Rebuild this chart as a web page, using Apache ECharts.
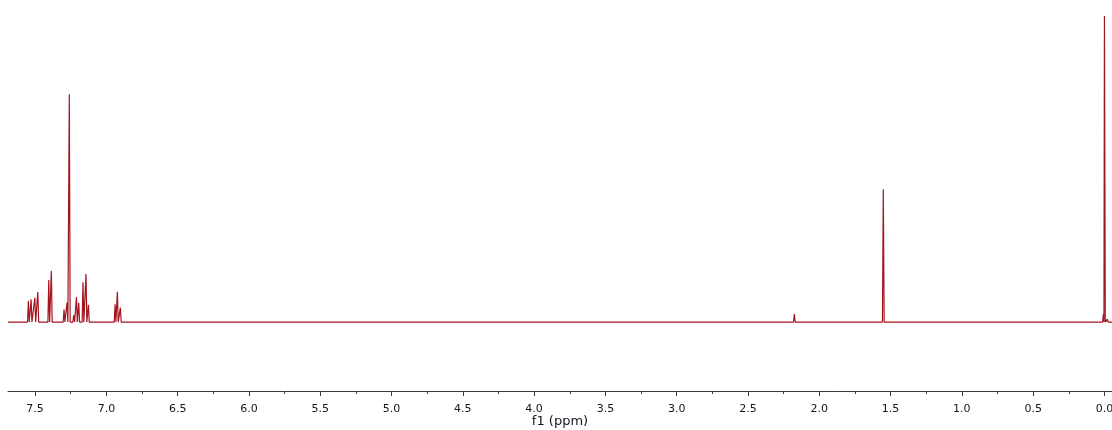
<!DOCTYPE html>
<html>
<head>
<meta charset="utf-8">
<script src="https://cdn.jsdelivr.net/npm/echarts@6/dist/echarts.min.js"></script>
<style>
html,body{margin:0;padding:0;background:#fff;overflow:hidden;width:1112px;height:430px;}
#chart{position:absolute;left:-40px;top:0;width:1220px;height:430px;}
</style>
</head>
<body>
<div id="chart"></div>
<script>
// Visible chemical-shift range (ppm), axis drawn right-to-left
const ppmHigh = 7.69;
const ppmLow = -0.053;

// Peak positions (ppm) and heights (relative, tallest = 100)
const peakPpm = [7.547, 7.528, 7.502, 7.481, 7.404, 7.386, 7.297, 7.276, 7.260, 7.229,
                 7.210, 7.194, 7.164, 7.143, 7.126, 6.939, 6.923, 6.902, 5.300, 2.175,
                 1.551, 1.260, 0.880, 0.150, 0.025, 0.007, 0.000, -0.020];
const peakHeight = [6.9, 7.4, 7.9, 9.8, 13.7, 16.7, 4.1, 6.4, 74.4, 2.3,
                    8.2, 6.3, 13.0, 15.7, 5.6, 5.8, 9.9, 4.7, 0.3, 2.6,
                    43.4, 0.3, 0.3, 0.3, 0.4, 2.6, 100, 0.9];

// Tick labels every 0.5 ppm (minor ticks every 0.25)
const tickStep = 0.5;
const tickMin = -0.5;
const tickMax = 8.0;
const axisTitle = 'f1 (ppm)';

// Build line vertices: baseline -> apex -> baseline for each peak
const spectrum = [[ppmHigh, 0]];
for (let i = 0; i < peakPpm.length; i++) {
  const p = peakPpm[i];
  const gapL = i > 0 ? peakPpm[i - 1] - p : 1;
  const gapR = i < peakPpm.length - 1 ? p - peakPpm[i + 1] : 1;
  const wl = Math.min(0.006, gapL / 2);
  const wr = Math.min(0.006, gapR / 2);
  spectrum.push([p + wl, 0], [p, peakHeight[i]], [p - wr, 0]);
}
spectrum.push([ppmLow, 0]);

const chart = echarts.init(document.getElementById('chart'), null, {renderer: 'canvas'});
// canvas is shifted 40px to the left of the window
const shift = 40;
const canvasW = 1220;
const dataLeft = 8 + shift;                 // window x 8
const dataRight = canvasW - (1112 + shift);  // window x 1112
const pxPerPpm = (1112 - 8) / (ppmHigh - ppmLow);
const tickLeft = dataLeft - (tickMax - ppmHigh) * pxPerPpm;
const tickWidth = (tickMax - tickMin) * pxPerPpm;

const tickFont = {fontFamily: '"DejaVu Sans"', fontSize: 11, color: '#15151f'};
const nameFont = {fontFamily: '"DejaVu Sans"', fontSize: 13, color: '#15151f'};

chart.setOption({
  animation: false,
  backgroundColor: '#ffffff',
  grid: [
    {left: dataLeft, right: dataRight, top: 16, bottom: 39, containLabel: false, outerBoundsMode: 'none'},
    {left: tickLeft, width: tickWidth, top: 16, bottom: 39, containLabel: false, outerBoundsMode: 'none'}
  ],
  xAxis: [
    {
      gridIndex: 0, type: 'value', inverse: true, min: ppmLow, max: ppmHigh,
      axisLine: {show: true, onZero: false, lineStyle: {color: '#3a3a3a', width: 1}},
      axisTick: {show: false}, axisLabel: {show: false}, splitLine: {show: false},
      name: axisTitle, nameLocation: 'middle', nameGap: 24,
      nameTextStyle: nameFont
    },
    {
      gridIndex: 1, type: 'value', inverse: true, min: tickMin, max: tickMax, interval: tickStep,
      axisLine: {show: false, onZero: false},
      axisTick: {show: true, length: 5, lineStyle: {color: '#3a3a3a'}},
      minorTick: {show: true, splitNumber: 2, length: 3, lineStyle: {color: '#3a3a3a'}},
      axisLabel: Object.assign({show: true, margin: 13, formatter: v => v.toFixed(1)}, tickFont),
      splitLine: {show: false}
    }
  ],
  yAxis: [
    {gridIndex: 0, type: 'value', min: -22.53, max: 100, show: false, splitLine: {show: false}},
    {gridIndex: 1, type: 'value', min: 0, max: 1, show: false, splitLine: {show: false}}
  ],
  series: [{
    type: 'line', xAxisIndex: 0, yAxisIndex: 0,
    data: spectrum, showSymbol: false, symbol: 'none', clip: false, silent: true,
    lineStyle: {color: '#a3141f', width: 1.2}
  }]
});
</script>
</body>
</html>
